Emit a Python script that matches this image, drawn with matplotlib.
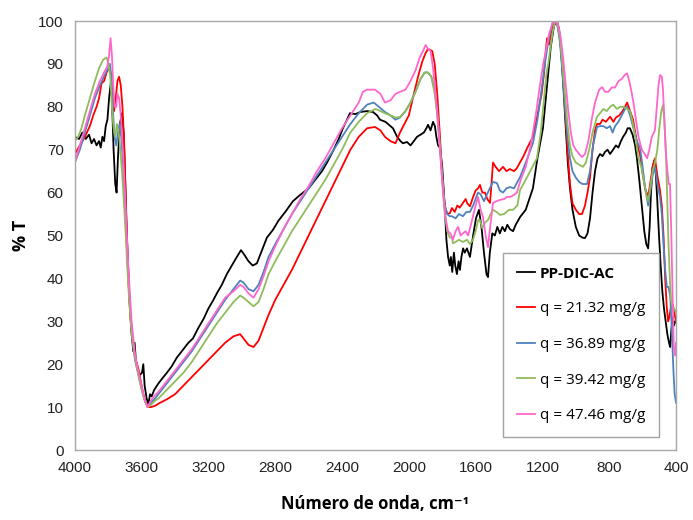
import matplotlib
matplotlib.use("Agg")
import matplotlib.pyplot as plt

# ---------------- data (wavenumber cm-1, %T) ----------------
labels = ["PP-DIC-AC", "q = 21.32 mg/g", "q = 36.89 mg/g", "q = 39.42 mg/g", "q = 47.46 mg/g"]
colors = ["#000000", "#ff0000", "#4f81bd", "#8fbc5a", "#ff66cc"]

x_ticks = [4000, 3600, 3200, 2800, 2400, 2000, 1600, 1200, 800, 400]
y_ticks = [0, 10, 20, 30, 40, 50, 60, 70, 80, 90, 100]

black_pts = [(4000,73),(3975,72.5),(3955,74),(3935,72.5),(3915,73.5),(3900,71.5),(3885,72.5),(3870,71),(3855,72),
(3845,70.5),(3835,73),(3825,72),(3815,75.5),(3805,77),(3795,82),(3785,85.5),(3778,82),(3768,70),(3758,62),(3750,60),
(3742,68),(3730,76),(3718,78.5),(3708,74),(3700,65),(3690,52),(3680,42),(3670,33),(3660,27),(3650,23),(3642,25),
(3635,21),(3625,19),(3610,17.5),(3598,18),(3590,20),(3582,15),(3570,12),(3560,10.5),(3550,13),(3540,12.5),(3525,14),
(3500,15.5),(3470,17),(3449,18),(3420,19.5),(3390,21.5),(3350,23.5),(3320,25),(3293,26),(3260,28.5),(3230,30.5),
(3200,33),(3170,35),(3150,36.5),(3120,38.5),(3090,41),(3060,43),(3030,45),(3005,46.6),(2985,45.5),(2960,44),
(2935,43),(2910,43.5),(2880,46.5),(2850,49.5),(2814,51.3),(2780,53.5),(2740,55.5),(2694,58),(2650,59.5),(2600,61),
(2560,63),(2520,65),(2490,67),(2450,70),(2420,72.5),(2395,75),(2370,77),(2353,78.5),(2320,78.3),(2290,78.8),
(2250,79),(2215,78.8),(2190,78),(2173,77),(2140,76.5),(2110,75.5),(2095,75),(2070,73),(2050,72),(2035,71.5),
(2011,71.8),(1990,71),(1970,72),(1951,73),(1930,73.5),(1910,74),(1895,75),(1885,75.8),(1870,74.5),(1855,76.5),
(1844,75.5),(1835,73),(1825,71),(1814,70.5),(1800,66),(1790,60),(1784,56),(1775,49),(1765,45),(1755,43),(1748,45),
(1740,41.5),(1730,46),(1722,43),(1712,41),(1702,44),(1694,42),(1685,45),(1675,47),(1665,46),(1652,47),(1634,45),
(1615,50),(1598,54),(1580,56),(1565,52),(1550,46),(1535,41),(1526,40.3),(1515,46),(1500,50.5),(1485,50),
(1470,52),(1455,50.5),(1440,52),(1425,51),(1410,52.5),(1395,51.5),(1376,51),(1360,52.5),(1334,54.3),(1300,56),
(1257,61),(1230,68),(1197,75),(1170,86),(1150,94),(1130,99),(1113,100),(1100,98),(1088,93),(1075,85),(1060,75),
(1048,67),(1035,61),(1020,56),(1000,52),(980,50),(960,49.5),(945,49.4),(930,50.5),(915,54),(900,60),(885,65),
(870,68),(855,69),(840,68.5),(825,69.5),(810,70),(795,69),(777,70),(760,71),(745,70.5),(730,72),(717,73),(700,74),
(690,75),(676,75),(660,73.5),(645,71),(634,68),(620,63),(605,57),(590,51),(578,48),(567,47),(558,52),(550,60),
(540,66),(530,67.5),(522,65),(512,58),(502,50),(492,43),(482,37),(472,33),(462,30),(452,27),(442,25),(435,24),
(428,28),(420,31),(412,29),(405,30),(400,30)]

red_pts = [(4000,69),(3970,71),(3940,73),(3910,75.5),(3890,78),(3870,80),(3855,82),(3840,85.5),(3825,86),(3810,88),
(3795,89),(3785,88),(3775,83),(3765,79),(3755,82),(3745,86),(3735,87),(3725,85),(3715,80),(3705,72),(3695,58),
(3685,45),(3675,36),(3665,30),(3655,26),(3645,23),(3635,21),(3620,19),(3605,16),(3590,13),(3575,11),(3563,10),
(3545,10),(3520,10.3),(3490,11),(3450,11.8),(3400,13),(3350,15),(3300,17),(3250,19),(3200,21),(3150,23),(3100,25),
(3050,26.5),(3010,27),(2990,26),(2960,24.5),(2930,24),(2900,25.5),(2870,28.5),(2840,31.5),(2800,35),(2750,38.5),
(2700,42),(2650,46),(2600,50),(2550,54),(2500,58),(2450,62),(2400,66),(2350,70),(2300,73),(2250,75),(2203,75.3),
(2170,74.5),(2143,73),(2110,72),(2080,71.5),(2053,74),(2020,76.5),(2000,78),(1970,83),(1945,87),(1920,90.5),
(1900,92.5),(1885,93.5),(1860,93),(1845,90),(1830,83),(1815,74),(1800,64),(1785,57),(1770,55),(1754,55.2),
(1742,56.4),(1725,55.5),(1710,57),(1695,56.5),(1676,57.6),(1660,58.5),(1650,57.5),(1634,56.8),(1615,59),
(1600,60.5),(1585,61),(1574,61.8),(1560,60),(1544,60),(1530,58.5),(1514,57.6),(1505,62),(1496,67),(1480,66),
(1460,65),(1436,66),(1415,65),(1395,65.5),(1370,65),(1353,65.7),(1335,67),(1316,68.3),(1290,70.5),(1257,73),
(1230,78),(1205,83),(1190,88),(1180,93),(1172,96),(1160,94.5),(1145,98),(1125,100),(1110,99),(1095,96),(1080,90),
(1065,80),(1050,70),(1035,62),(1020,57.5),(1000,56),(980,55),(963,55),(945,57),(930,60),(915,63.6),(900,70),
(885,74.5),(873,76),(855,76),(840,77),(820,76.5),(795,77.7),(775,76.5),(760,77.5),(740,78),(720,79),(705,80),
(693,81),(675,79),(657,77),(640,73),(625,70),(616,69),(600,64.5),(585,61),(567,59),(555,62),(540,66),(526,68),
(512,64),(496,60.6),(485,57),(475,50),(465,40),(455,33),(447,30),(440,31),(430,33.5),(420,34),(410,32),(400,30)]

blue_pts = [(4000,67),(3970,70),(3940,74),(3910,78),(3880,82),(3850,85),(3820,87.5),(3800,89),(3790,90),(3782,87),
(3772,79),(3762,73),(3752,71),(3742,74),(3732,76),(3722,73),(3712,67),(3702,60),(3692,50),(3682,42),(3672,35),
(3662,29),(3652,25),(3640,21),(3625,18.5),(3610,16),(3595,13.5),(3580,11.5),(3563,10),(3545,11),(3520,12),
(3500,13),(3450,15.5),(3400,18),(3350,20.5),(3300,23),(3250,26),(3200,29),(3150,32),(3100,35),(3050,37.5),
(3010,39.5),(2990,39),(2960,37.5),(2930,37),(2900,38.5),(2870,41.5),(2840,45),(2800,48),(2750,51.5),(2700,55),
(2650,58),(2600,61),(2550,64),(2500,67),(2450,70),(2400,73),(2350,76),(2300,78.5),(2250,80.5),(2210,81),
(2180,80),(2143,78.8),(2110,78),(2080,77),(2053,77.5),(2020,79),(1990,81),(1960,83.5),(1930,86.5),(1905,88),
(1885,88),(1865,87),(1845,84),(1830,79),(1815,72),(1800,64),(1785,57),(1770,55),(1755,54.5),(1742,54.5),
(1720,54),(1700,55),(1676,54.5),(1655,55.5),(1634,55.5),(1615,57),(1600,58.5),(1586,60),(1570,59.6),(1550,58),
(1532,59.6),(1515,61),(1496,62.5),(1472,62.2),(1455,60.5),(1436,60),(1415,61),(1394,61.3),(1370,61),(1350,62.5),
(1334,63.6),(1300,67),(1257,71.5),(1230,77),(1205,84),(1185,90),(1170,94),(1155,97),(1140,99.5),(1125,100),
(1110,99),(1095,95),(1080,88),(1065,80),(1050,73),(1035,68),(1020,65),(1000,63.5),(980,62.5),(960,62),(933,62),
(915,65),(897,71),(873,75.3),(855,75.5),(835,75.5),(815,75),(795,75.5),(780,74),(765,75.5),(745,76.5),(725,78),
(705,79.5),(693,80),(675,78),(655,75),(635,72),(616,70.6),(600,66),(585,61),(567,57),(555,60),(540,64),(526,66),
(512,62),(496,59),(485,55),(475,48),(465,42),(455,38),(445,38),(435,36),(425,28),(415,18),(408,13),(400,11)]

green_pts = [(4000,72),(3980,73),(3960,75),(3940,78),(3910,82),(3880,86),(3855,89),(3830,91),(3810,91.5),(3798,90),
(3788,87),(3778,80),(3768,75),(3758,73),(3748,76),(3738,74.5),(3728,70),(3716,64),(3705,57),(3695,50),(3685,42),
(3675,35),(3665,29.5),(3655,25.5),(3642,22),(3628,19),(3612,16),(3597,13.5),(3582,11.5),(3565,10),(3545,10.5),
(3520,11.5),(3500,12),(3450,14),(3400,16),(3350,18),(3300,20.5),(3250,23.5),(3200,26.5),(3150,29.5),(3100,32),
(3050,34.5),(3010,36),(2990,35.5),(2960,34.5),(2930,33.5),(2900,34.5),(2870,37.5),(2840,41),(2800,44),(2750,47.5),
(2700,51),(2650,54),(2600,57),(2550,60),(2500,63),(2450,66.5),(2400,70),(2350,74),(2300,76.5),(2250,78.5),
(2200,79.5),(2170,79),(2143,78.5),(2110,78),(2080,77.5),(2053,77.6),(2020,79),(1990,81),(1960,83.5),(1930,86.5),
(1905,88),(1885,88),(1865,87),(1845,83),(1830,78),(1815,71),(1800,63),(1785,55),(1770,51),(1755,49.5),(1742,49.6),
(1736,48.2),(1720,48.5),(1700,49),(1676,48.5),(1652,49),(1634,48),(1616,49),(1600,51),(1585,53.6),(1574,53.6),
(1560,51.7),(1544,53),(1526,53.6),(1510,55),(1496,56),(1475,55.5),(1454,54.8),(1430,55),(1400,56),(1376,56),
(1350,57),(1334,60.6),(1300,63),(1260,66),(1233,68),(1210,74),(1190,82),(1175,88),(1165,90),(1155,93),(1140,97),
(1125,100),(1110,99.5),(1095,96),(1080,90),(1065,83),(1050,76),(1035,71),(1020,68.5),(1000,67),(980,66.5),
(957,66),(940,67),(920,70),(900,74),(873,77.7),(855,78.5),(835,79.5),(815,79),(795,80),(775,80.5),(755,79.5),
(735,80),(715,80),(693,79.5),(675,79),(657,76),(640,72),(625,68),(608,66),(590,62),(575,59),(567,58),(555,61),
(540,65),(526,67),(512,70),(500,75),(488,79),(478,80.4),(470,77),(460,69),(452,58),(445,48),(437,40),(430,35),
(420,33),(410,33),(400,32)]

pink_pts = [(4000,67),(3970,71),(3940,75),(3910,79),(3880,83),(3850,86),(3825,88),(3805,89.5),(3795,92),(3786,96),
(3778,92),(3770,85),(3762,80),(3752,80),(3745,83),(3735,82),(3725,78),(3712,70),(3700,60),(3690,51),(3680,43),
(3670,36),(3660,30),(3650,26),(3640,22.5),(3626,19.5),(3612,17),(3598,14.5),(3583,12),(3565,10),(3545,11.5),
(3520,12.8),(3500,13.5),(3450,16),(3400,18.5),(3350,21),(3320,22.5),(3300,23.5),(3250,26.5),(3200,29.5),
(3150,32.5),(3100,35.5),(3050,37),(3010,38.5),(2990,38),(2960,36.5),(2930,35.5),(2900,37.5),(2870,40.5),
(2840,44),(2800,47.5),(2750,51.5),(2700,55),(2650,58.5),(2600,61.5),(2550,65),(2500,68),(2450,71.5),(2400,75),
(2350,78),(2300,81),(2275,83.5),(2250,84),(2203,84),(2170,83),(2143,81),(2110,81.5),(2080,83),(2053,83.5),
(2020,84),(1990,86),(1960,88.5),(1935,91.5),(1915,93),(1900,94.4),(1885,93.5),(1870,93),(1855,89),(1840,83),
(1825,76),(1810,68),(1795,60),(1780,54),(1765,51),(1752,50.5),(1745,50),(1736,49),(1720,51),(1705,52),(1690,50),
(1676,50.5),(1660,51),(1645,50),(1625,53),(1600,57),(1586,59),(1570,56),(1556,54.3),(1540,50),(1526,47.3),
(1510,53),(1496,57.6),(1475,58),(1455,58.3),(1430,58.5),(1412,59),(1390,59),(1370,59.5),(1353,60),(1330,63),
(1300,66),(1270,71),(1240,78),(1215,85),(1195,90),(1175,94),(1160,97),(1140,99.5),(1120,100),(1105,99),(1090,96),
(1075,91),(1060,85),(1045,79),(1030,74),(1015,71),(1000,70),(980,69),(963,68.3),(945,69),(925,72),(905,77),
(885,81),(860,84),(843,84.6),(825,83.5),(805,83.5),(785,84.5),(765,84.5),(745,86),(725,86.5),(705,87.5),(693,87.8),
(680,86),(669,84),(655,81),(640,77),(625,73),(605,70),(588,69),(573,68),(560,70),(545,73),(526,74.6),(515,80),
(505,85),(496,87.4),(485,87),(478,84),(470,77),(462,70),(452,65),(443,62),(436,62),(428,50),(420,35),(413,24),
(405,22),(400,25)]

series = [black_pts, red_pts, blue_pts, green_pts, pink_pts]

# ---------------- figure ----------------
plt.rcParams['font.family'] = ['Liberation Sans', 'DejaVu Sans']
fig = plt.figure(figsize=(6.93, 5.20), dpi=100)
ax = fig.add_axes([0.108, 0.1346, 0.8675, 0.825])

for pts, col, lab in zip(series, colors, labels):
    xs = [p[0] for p in pts]
    ys = [p[1] for p in pts]
    ax.plot(xs, ys, color=col, lw=1.3, label=lab, solid_joinstyle='round')

ax.set_xlim(4000, 400)
ax.set_ylim(0, 100)
ax.set_xticks(x_ticks)
ax.set_yticks(y_ticks)
ax.tick_params(length=0, labelsize=11, colors='#222222', pad=8)
for s in ax.spines.values():
    s.set_color('#a6a6a6')
    s.set_linewidth(1.0)

ax.set_xlabel('Número de onda, cm\u207b\u00b9', fontsize=12, fontweight='bold',
              family=['Open Sans', 'DejaVu Sans'], labelpad=14)
ax.set_ylabel('% T', fontsize=13, fontweight='bold', family=['Open Sans', 'DejaVu Sans'], labelpad=6)

leg = ax.legend(loc='upper left', bbox_to_anchor=(0.712, 0.459), frameon=True, fancybox=False,
                edgecolor='#8c8c8c', handlelength=1.2, handletextpad=0.3, labelspacing=1.35,
                borderpad=0.9, borderaxespad=0,
                prop={'family': ['Open Sans', 'DejaVu Sans'], 'size': 11})
leg.get_frame().set_linewidth(1.0)
leg.get_texts()[0].set_fontweight('bold')

fig.savefig('out.png', dpi=100)
